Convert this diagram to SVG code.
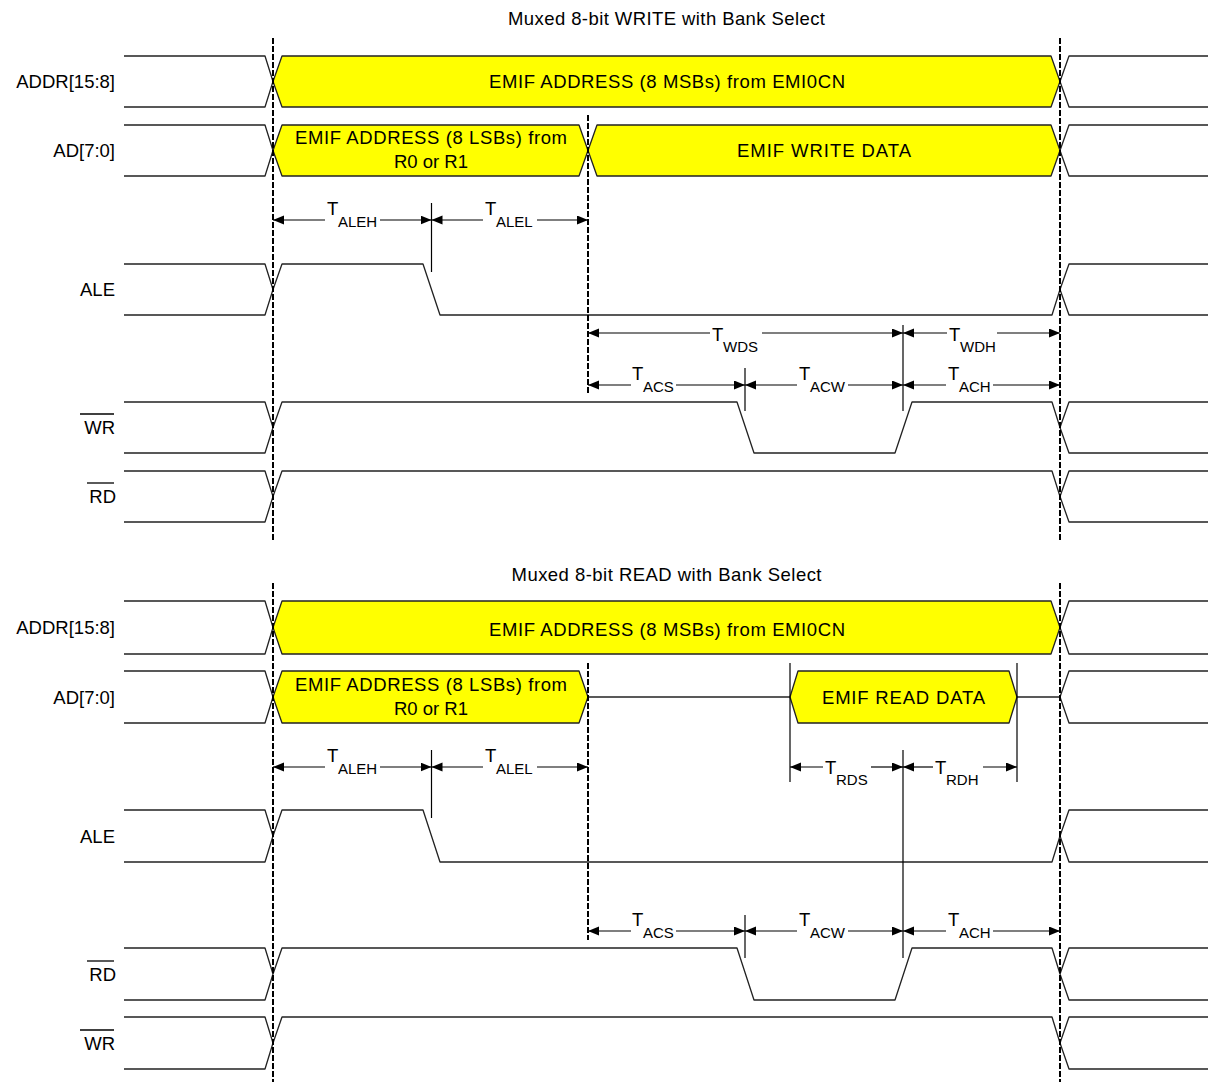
<svg xmlns="http://www.w3.org/2000/svg" width="1208" height="1082" viewBox="0 0 1208 1082">
<style>
text{font-family:"Liberation Sans",Arial,sans-serif;fill:#000}
.t{font-size:18.5px}
.lbl{font-size:18.5px;text-anchor:end}
.c{text-anchor:middle}
.T{font-size:18.5px}
.s{font-size:15px}
.w{fill:none;stroke:#222;stroke-width:1.3;stroke-linejoin:round}
.bus{fill:#FFFF00;stroke:#222;stroke-width:1.3;stroke-linejoin:round}
.dash{stroke:#000;stroke-width:2;stroke-dasharray:6 2}
.mk{stroke:#000;stroke-width:1.2}
.d{stroke:#000;stroke-width:1.2;fill:none}
.bar{stroke:#000;stroke-width:1.3}
</style>
<defs>
<marker id="ah" markerWidth="12" markerHeight="10" refX="11" refY="4.5" orient="auto-start-reverse" markerUnits="userSpaceOnUse"><path d="M0,0 L11,4.5 L0,9 Z" fill="#000"/></marker>
</defs>
<rect width="1208" height="1082" fill="#fff"/>

<text id="title-write" class="t c" x="666.5" y="25" textLength="317">Muxed 8-bit WRITE with Bank Select</text>
<text id="title-read" class="t c" x="666.5" y="581" textLength="310">Muxed 8-bit READ with Bank Select</text>

<!-- ===== WRITE diagram ===== -->
<g id="w-addr">
<text class="lbl" x="115" y="88">ADDR[15:8]</text>
<path class="w" d="M124,56 H265 L273,81.5 M124,107 H265 L273,81.5"/>
<path class="bus" d="M273,81.5 L282,56 H1051 L1060,81.5 L1051,107 H282 Z"/>
<text class="t c" x="667" y="87.5" textLength="356">EMIF ADDRESS (8 MSBs) from EMI0CN</text>
<path class="w" d="M1060,81.5 L1069,56 H1208 M1060,81.5 L1069,107 H1208"/>
</g>
<g id="w-ad">
<text class="lbl" x="115" y="157">AD[7:0]</text>
<path class="w" d="M124,125 H265 L273,150.5 M124,176 H265 L273,150.5"/>
<path class="bus" d="M273,150.5 L282,125 H579 L588,150.5 L579,176 H282 Z"/>
<text class="t c" x="431" y="144" textLength="272">EMIF ADDRESS (8 LSBs) from</text>
<text class="t c" x="431" y="167.5">R0 or R1</text>
<path class="bus" d="M588,150.5 L597,125 H1051 L1060,150.5 L1051,176 H597 Z"/>
<text class="t c" x="824" y="156.5" textLength="174">EMIF WRITE DATA</text>
<path class="w" d="M1060,150.5 L1069,125 H1208 M1060,150.5 L1069,176 H1208"/>
</g>
<g id="w-ale">
<text class="lbl" x="115" y="296">ALE</text>
<path class="w" d="M124,264 H265 L273,289.5 M124,315 H265 L273,289.5"/>
<path class="w" d="M273,289.5 L282,264 H423 L440,315 H1052 L1060,289.5"/>
<path class="w" d="M1060,289.5 L1069,264 H1208 M1060,289.5 L1069,315 H1208"/>
</g>
<g id="w-wr">
<text class="lbl" x="115" y="433.5">WR</text>
<line class="bar" x1="80" y1="414" x2="114" y2="414"/>
<path class="w" d="M124,402 H265 L273,427.5 M124,453 H265 L273,427.5"/>
<path class="w" d="M273,427.5 L282,402 H737 L754,453 H895 L912,402 H1052 L1060,427.5"/>
<path class="w" d="M1060,427.5 L1069,402 H1208 M1060,427.5 L1069,453 H1208"/>
</g>
<g id="w-rd">
<text class="lbl" x="116" y="502.5">RD</text>
<line class="bar" x1="87" y1="483" x2="114" y2="483"/>
<path class="w" d="M124,471 H265 L273,496.5 M124,522 H265 L273,496.5"/>
<path class="w" d="M273,496.5 L282,471 H1052 L1060,496.5"/>
<path class="w" d="M1060,496.5 L1069,471 H1208 M1060,496.5 L1069,522 H1208"/>
</g>

<!-- ===== READ diagram ===== -->
<g id="r-addr">
<text class="lbl" x="115" y="634">ADDR[15:8]</text>
<path class="w" d="M124,601 H265 L273,627.5 M124,654 H265 L273,627.5"/>
<path class="bus" d="M273,627.5 L282,601 H1051 L1060,627.5 L1051,654 H282 Z"/>
<text class="t c" x="667" y="636" textLength="356">EMIF ADDRESS (8 MSBs) from EMI0CN</text>
<path class="w" d="M1060,627.5 L1069,601 H1208 M1060,627.5 L1069,654 H1208"/>
</g>
<g id="r-ad">
<text class="lbl" x="115" y="704">AD[7:0]</text>
<path class="w" d="M124,671 H265 L273,697 M124,723 H265 L273,697"/>
<path class="bus" d="M273,697 L282,671 H579 L588,697 L579,723 H282 Z"/>
<text class="t c" x="431" y="691" textLength="272">EMIF ADDRESS (8 LSBs) from</text>
<text class="t c" x="431" y="714.5">R0 or R1</text>
<path class="w" d="M588,697 H790"/>
<path class="bus" d="M790,697 L798,671 H1009 L1017,697 L1009,723 H798 Z"/>
<text class="t c" x="903.5" y="703.5" textLength="163">EMIF READ DATA</text>
<path class="w" d="M1017,697 H1060"/>
<path class="w" d="M1060,697 L1069,671 H1208 M1060,697 L1069,723 H1208"/>
</g>
<g id="r-ale">
<text class="lbl" x="115" y="842.5">ALE</text>
<path class="w" d="M124,810 H265 L273,836 M124,862 H265 L273,836"/>
<path class="w" d="M273,836 L282,810 H423 L440,862 H1052 L1060,836"/>
<path class="w" d="M1060,836 L1069,810 H1208 M1060,836 L1069,862 H1208"/>
</g>
<g id="r-rd">
<text class="lbl" x="116" y="980.5">RD</text>
<line class="bar" x1="87" y1="961" x2="114" y2="961"/>
<path class="w" d="M124,948 H265 L273,974 M124,1000 H265 L273,974"/>
<path class="w" d="M273,974 L282,948 H737 L754,1000 H895 L912,948 H1052 L1060,974"/>
<path class="w" d="M1060,974 L1069,948 H1208 M1060,974 L1069,1000 H1208"/>
</g>
<g id="r-wr">
<text class="lbl" x="115" y="1049.5">WR</text>
<line class="bar" x1="80" y1="1030" x2="114" y2="1030"/>
<path class="w" d="M124,1017 H265 L273,1043 M124,1069 H265 L273,1043"/>
<path class="w" d="M273,1043 L282,1017 H1052 L1060,1043"/>
<path class="w" d="M1060,1043 L1069,1017 H1208 M1060,1043 L1069,1069 H1208"/>
</g>

<!-- ===== connectors: reference lines, markers, timing dimensions ===== -->
<g id="connectors">
<line class="dash" x1="273" y1="38" x2="273" y2="540"/>
<line class="dash" x1="1060" y1="38" x2="1060" y2="540"/>
<line class="dash" x1="588" y1="115" x2="588" y2="393"/>
<line class="dash" x1="273" y1="583" x2="273" y2="1082"/>
<line class="dash" x1="1060" y1="583" x2="1060" y2="1082"/>
<line class="dash" x1="588" y1="663" x2="588" y2="940"/>

<line class="mk" x1="431.5" y1="203" x2="431.5" y2="272"/>
<line class="mk" x1="745" y1="368" x2="745" y2="411"/>
<line class="mk" x1="903" y1="325" x2="903" y2="411"/>
<line class="mk" x1="431.5" y1="750" x2="431.5" y2="818"/>
<line class="mk" x1="790" y1="663" x2="790" y2="782"/>
<line class="mk" x1="1017" y1="663" x2="1017" y2="782"/>
<line class="mk" x1="903" y1="750" x2="903" y2="958"/>
<line class="mk" x1="745" y1="915" x2="745" y2="958"/>

<!-- write: TALEH / TALEL -->
<line class="d" x1="273" y1="220" x2="325" y2="220" marker-start="url(#ah)"/>
<line class="d" x1="380" y1="220" x2="431.5" y2="220" marker-end="url(#ah)"/>
<line class="d" x1="431.5" y1="220" x2="483" y2="220" marker-start="url(#ah)"/>
<line class="d" x1="537" y1="220" x2="588" y2="220" marker-end="url(#ah)"/>
<!-- write: TWDS / TWDH -->
<line class="d" x1="588" y1="333" x2="710" y2="333" marker-start="url(#ah)"/>
<line class="d" x1="762" y1="333" x2="903" y2="333" marker-end="url(#ah)"/>
<line class="d" x1="903" y1="333" x2="947" y2="333" marker-start="url(#ah)"/>
<line class="d" x1="997" y1="333" x2="1060" y2="333" marker-end="url(#ah)"/>
<!-- write: TACS / TACW / TACH -->
<line class="d" x1="588" y1="385" x2="631" y2="385" marker-start="url(#ah)"/>
<line class="d" x1="676" y1="385" x2="745" y2="385" marker-end="url(#ah)"/>
<line class="d" x1="745" y1="385" x2="797" y2="385" marker-start="url(#ah)"/>
<line class="d" x1="848" y1="385" x2="903" y2="385" marker-end="url(#ah)"/>
<line class="d" x1="903" y1="385" x2="946" y2="385" marker-start="url(#ah)"/>
<line class="d" x1="993" y1="385" x2="1060" y2="385" marker-end="url(#ah)"/>

<!-- read: TALEH / TALEL -->
<line class="d" x1="273" y1="767" x2="325" y2="767" marker-start="url(#ah)"/>
<line class="d" x1="380" y1="767" x2="431.5" y2="767" marker-end="url(#ah)"/>
<line class="d" x1="431.5" y1="767" x2="483" y2="767" marker-start="url(#ah)"/>
<line class="d" x1="537" y1="767" x2="588" y2="767" marker-end="url(#ah)"/>
<!-- read: TRDS / TRDH -->
<line class="d" x1="790" y1="767" x2="823" y2="767" marker-start="url(#ah)"/>
<line class="d" x1="871" y1="767" x2="903" y2="767" marker-end="url(#ah)"/>
<line class="d" x1="903" y1="767" x2="933" y2="767" marker-start="url(#ah)"/>
<line class="d" x1="983" y1="767" x2="1017" y2="767" marker-end="url(#ah)"/>
<!-- read: TACS / TACW / TACH -->
<line class="d" x1="588" y1="931" x2="631" y2="931" marker-start="url(#ah)"/>
<line class="d" x1="676" y1="931" x2="745" y2="931" marker-end="url(#ah)"/>
<line class="d" x1="745" y1="931" x2="797" y2="931" marker-start="url(#ah)"/>
<line class="d" x1="848" y1="931" x2="903" y2="931" marker-end="url(#ah)"/>
<line class="d" x1="903" y1="931" x2="946" y2="931" marker-start="url(#ah)"/>
<line class="d" x1="993" y1="931" x2="1060" y2="931" marker-end="url(#ah)"/>
</g>

<g id="timing-labels">
<text class="T" x="327" y="215">T</text><text class="s" x="338" y="226.5">ALEH</text>
<text class="T" x="485" y="215">T</text><text class="s" x="496" y="226.5">ALEL</text>
<text class="T" x="712" y="340.5">T</text><text class="s" x="723" y="352">WDS</text>
<text class="T" x="949" y="340.5">T</text><text class="s" x="960" y="352">WDH</text>
<text class="T" x="632" y="379.5">T</text><text class="s" x="643" y="391.5">ACS</text>
<text class="T" x="799" y="379.5">T</text><text class="s" x="810" y="391.5">ACW</text>
<text class="T" x="948" y="379.5">T</text><text class="s" x="959" y="391.5">ACH</text>

<text class="T" x="327" y="762">T</text><text class="s" x="338" y="773.5">ALEH</text>
<text class="T" x="485" y="762">T</text><text class="s" x="496" y="773.5">ALEL</text>
<text class="T" x="825" y="773.5">T</text><text class="s" x="836" y="785">RDS</text>
<text class="T" x="935" y="773.5">T</text><text class="s" x="946" y="785">RDH</text>
<text class="T" x="632" y="925.5">T</text><text class="s" x="643" y="937.5">ACS</text>
<text class="T" x="799" y="925.5">T</text><text class="s" x="810" y="937.5">ACW</text>
<text class="T" x="948" y="925.5">T</text><text class="s" x="959" y="937.5">ACH</text>
</g>
</svg>
